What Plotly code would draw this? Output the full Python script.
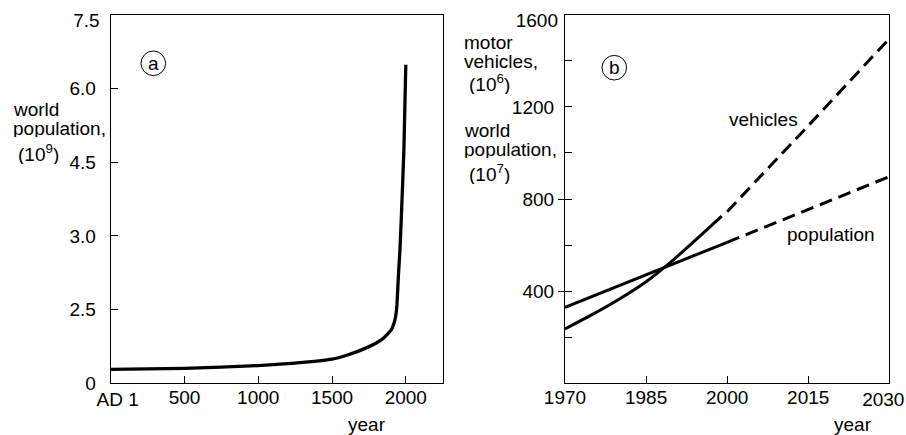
import plotly.graph_objects as go

# ---------------- data ----------------
# panel a: world population (10^9) vs year
pop_years = [0, 500, 1000, 1250, 1500, 1600, 1700, 1800, 1850, 1900, 1920, 1932, 1940, 1950, 1960, 1970, 1987, 2000]
pop_values = [0.285, 0.305, 0.36, 0.41, 0.49, 0.57, 0.68, 0.82, 0.92, 1.08, 1.22, 1.38, 1.6, 2.2, 2.7, 3.4, 4.75, 6.48]
a_ytickvals = [0, 1.5, 3.0, 4.5, 6.0]
a_yticktext = ["0", "2.5", "3.0", "4.5", "6.0"]
a_ytopval, a_ytoptext = [7.5], ["7.5"]
a_xtickvals = [500, 1000, 1500, 2000]
a_xticktext = ["500", "1000", "1500", "2000"]
a_xfirstval, a_xfirsttext = [0], ["AD 1"]

# panel b: motor vehicles (10^6) and world population (10^7)
veh_years = [1970, 1975, 1980, 1985, 1990, 1995, 1999]
veh_values = [236, 298, 365, 441, 535, 640, 726]
veh_proj_years = [2000, 2015, 2030]
veh_proj_values = [745, 1118, 1496]
popb_years = [1970, 2000]
popb_values = [330, 612]
popb_proj_years = [2000, 2030]
popb_proj_values = [612, 897]
b_ytickvals = [400, 800, 1200]
b_yticktext = ["400", "800", "1200"]
b_ytopval, b_ytoptext = [1600], ["1600"]
b_yminorvals = [200, 600, 1000, 1400]
b_ycrossvals = [400, 800]
b_xtickvals = [1970, 1985, 2000, 2015]
b_xticktext = ["1970", "1985", "2000", "2015"]
b_xlastval, b_xlasttext = [2030], ["2030"]

# ---------------- figure ----------------
W, H = 906, 435
FONT = "Liberation Sans, Arial, Helvetica, sans-serif"
FS = 19


def px(x):
    return x / W


def py(y):
    return 1 - y / H


fig = go.Figure()
fig.add_trace(go.Scatter(x=pop_years, y=pop_values, mode="lines",
                         line=dict(color="black", width=3.3, shape="spline", smoothing=0.4),
                         xaxis="x", yaxis="y", hoverinfo="skip", showlegend=False))
fig.add_trace(go.Scatter(x=popb_years, y=popb_values, mode="lines",
                         line=dict(color="black", width=3),
                         xaxis="x2", yaxis="y2", showlegend=False))
fig.add_trace(go.Scatter(x=popb_proj_years, y=popb_proj_values, mode="lines",
                         line=dict(color="black", width=3, dash="13px,7px"),
                         xaxis="x2", yaxis="y2", showlegend=False))
fig.add_trace(go.Scatter(x=veh_years, y=veh_values, mode="lines",
                         line=dict(color="black", width=3, shape="spline", smoothing=0.5),
                         xaxis="x2", yaxis="y2", showlegend=False))
fig.add_trace(go.Scatter(x=veh_proj_years, y=veh_proj_values, mode="lines",
                         line=dict(color="black", width=3, dash="13px,7px"),
                         xaxis="x2", yaxis="y2", showlegend=False))

# markless traces that only register the overlay axes (used for single tick labels/ticks)
for xa, ya, xs, ys in [("x4", "y", pop_years, pop_values), ("x", "y4", pop_years, pop_values),
                       ("x3", "y2", popb_years, popb_values), ("x2", "y3", popb_years, popb_values),
                       ("x2", "y5", popb_years, popb_values)]:
    fig.add_trace(go.Scatter(x=xs, y=ys, mode="none", xaxis=xa, yaxis=ya,
                             hoverinfo="skip", showlegend=False))

TICKFONT = dict(family=FONT, size=FS, color="black")
axis_common = dict(showgrid=False, zeroline=False, showline=True, linecolor="black",
                   linewidth=1.2, mirror=True, ticks="inside", ticklen=7,
                   tickcolor="black", tickwidth=1.2, automargin=False,
                   ticklabeloverflow="allow", tickfont=TICKFONT)
overlay_common = dict(showgrid=False, zeroline=False, showline=False, automargin=False,
                      ticklabeloverflow="allow", tickfont=TICKFONT, tickmode="array")

XSTAND = -3
XSTAND_OV = 3
ydom = [py(383.3), py(14.7)]
xdom_a = [px(110.7), px(442.7)]
xdom_b = [px(565), px(889.3)]
fig.update_layout(
    template="none",
    width=W, height=H,
    margin=dict(l=0, r=0, t=0, b=0, pad=0),
    paper_bgcolor="white", plot_bgcolor="white",
    showlegend=False,
    font=dict(family=FONT, size=FS, color="black"),
    # panel a
    xaxis=dict(domain=xdom_a, range=[0, 2250], anchor="y",
               tickmode="array", tickvals=a_xtickvals, ticktext=a_xticktext,
               ticklabelstandoff=XSTAND, **axis_common),
    xaxis4=dict(domain=xdom_a, range=[0, 2250], anchor="y", overlaying="x", side="bottom",
                tickvals=a_xfirstval, ticktext=a_xfirsttext, ticks="",
                ticklabelstandoff=XSTAND_OV, ticklabelshift=7, **overlay_common),
    yaxis=dict(domain=ydom, range=[0, 7.5], anchor="x",
               tickmode="array", tickvals=a_ytickvals, ticktext=a_yticktext,
               ticklabelstandoff=10, **axis_common),
    yaxis4=dict(domain=ydom, range=[0, 7.5], anchor="x", overlaying="y", side="left",
                tickvals=a_ytopval, ticktext=a_ytoptext, ticks="",
                ticklabelstandoff=10, ticklabelshift=6, **overlay_common),
    # panel b
    xaxis2=dict(domain=xdom_b, range=[1970, 2030], anchor="y2",
                tickmode="array", tickvals=b_xtickvals, ticktext=b_xticktext,
                ticklabelstandoff=XSTAND, **axis_common),
    xaxis3=dict(domain=xdom_b, range=[1970, 2030], anchor="y2", overlaying="x2", side="bottom",
                tickvals=b_xlastval, ticktext=b_xlasttext, ticks="",
                ticklabelstandoff=XSTAND_OV, ticklabelshift=-6, **overlay_common),
    yaxis2=dict(domain=ydom, range=[0, 1600], anchor="x2",
                tickmode="array", tickvals=b_ytickvals, ticktext=b_yticktext,
                minor=dict(tickmode="array", tickvals=b_yminorvals, ticks="inside",
                           ticklen=7, tickcolor="black", tickwidth=1.2, showgrid=False),
                ticklabelstandoff=6, **axis_common),
    yaxis3=dict(domain=ydom, range=[0, 1600], anchor="x2", overlaying="y2", side="left",
                tickvals=b_ycrossvals, ticks="outside", ticklen=6,
                tickcolor="black", tickwidth=1.2, showticklabels=False, **overlay_common),
    yaxis5=dict(domain=ydom, range=[0, 1600], anchor="x2", overlaying="y2", side="left",
                tickvals=b_ytopval, ticktext=b_ytoptext, ticks="",
                ticklabelstandoff=6, ticklabelshift=6, **overlay_common),
)

annots = []


def txt(x, y, s, anchor="left", size=FS, h=None):
    a = dict(x=px(x), y=py(y), xref="paper", yref="paper", text=s,
             showarrow=False, xanchor=anchor, yanchor="middle",
             font=dict(family=FONT, size=size, color="black"))
    if h is not None:
        a["height"] = h
    annots.append(a)


# panel a axis titles
txt(10.5, 109.3, "world", h=17)
txt(10.5, 128.3, "population,", h=17)
txt(16, 153, "(10<sup>9</sup>)", h=22)
txt(366.7, 424, "year", anchor="center")
# panel b axis titles
txt(461.5, 42.3, "motor", h=17)
txt(461.5, 61.7, "vehicles,", h=17)
txt(467, 83, "(10<sup>6</sup>)", h=22)
txt(461.5, 130, "world", h=17)
txt(461.5, 149, "population,", h=17)
txt(467, 173, "(10<sup>7</sup>)", h=22)
txt(853, 424, "year", anchor="center")
# series labels
txt(763.3, 119.3, "vehicles", anchor="center")
txt(830.7, 234.3, "population", anchor="center")
# panel letters
txt(153.3, 63.3, "a", anchor="center")
txt(614.3, 67.7, "b", anchor="center")
fig.update_layout(annotations=annots)

shapes = []
for cx, cy in [(153.3, 63.3), (614.3, 67.7)]:
    r = 12.3
    shapes.append(dict(type="circle", xref="paper", yref="paper",
                       x0=px(cx - r), x1=px(cx + r), y0=py(cy + r), y1=py(cy - r),
                       line=dict(color="black", width=1)))
fig.update_layout(shapes=shapes)

# remove the default 8px page margin so the figure fills the window exactly
fig.write_html("out.html", config={"displayModeBar": False},
               post_script="document.body.style.margin='0px';")
